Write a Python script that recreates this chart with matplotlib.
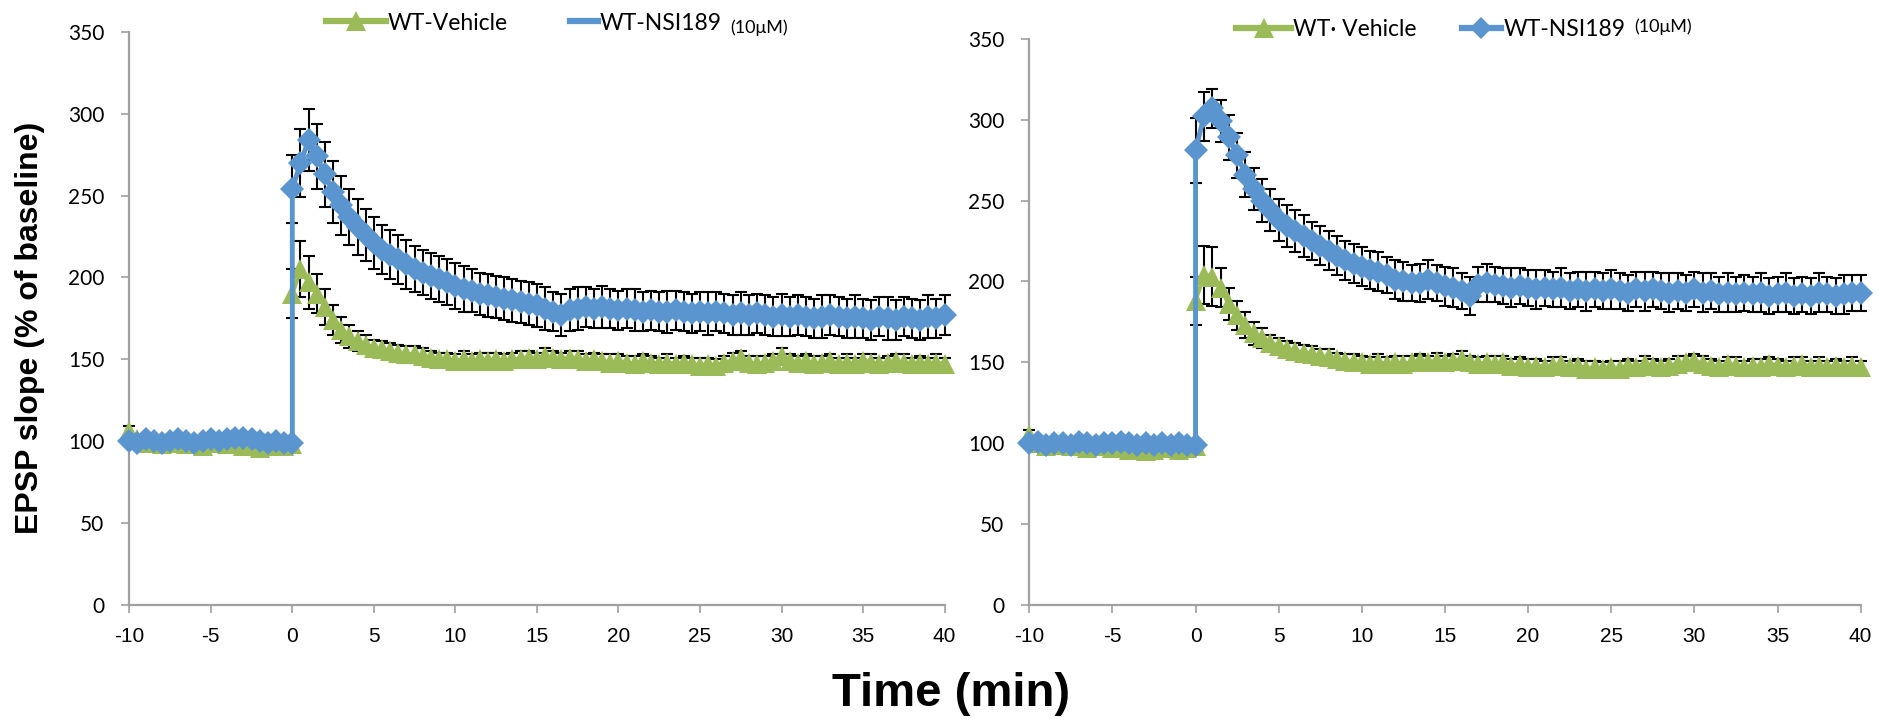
import matplotlib

matplotlib.use("Agg")
import matplotlib.pyplot as plt
import numpy as np
from matplotlib.lines import Line2D

BLUE = "#5B95CF"
GREEN = "#9BBB59"
SPINE = "#A0A0A0"

# time grid (min): baseline -10..0, post-tetanus 0..40, 30 s sampling
t_base = np.arange(-10, 0.5, 0.5)
t_post = np.arange(0, 40.5, 0.5)

# ---- left panel ----
left_blue_base = [100, 99, 101, 100, 99, 100, 101, 100, 99, 100, 101,
                  100, 101, 102, 102, 101, 100, 99, 100, 99, 99]
left_green_base = [106, 101, 99, 100, 98, 99, 100, 98, 99, 97, 99,
                   100, 98, 99, 97, 98, 96, 97, 98, 97, 98]
left_blue_post = [254, 270, 284, 274, 263, 252, 244, 237, 231, 226,
                  221, 217, 214, 211, 208, 205, 203, 201, 199, 197,
                  195, 193, 192, 190, 189, 188, 187, 186, 185, 184,
                  183, 181, 179, 177, 180, 181, 182, 181, 182, 181,
                  180, 181, 180, 179, 180, 179, 179, 180, 179, 178,
                  179, 178, 179, 178, 177, 178, 177, 178, 177, 176,
                  177, 176, 177, 176, 175, 176, 177, 176, 175, 176,
                  175, 174, 176, 175, 174, 176, 175, 174, 176, 175,
                  177]
left_blue_err = [21, 21, 19, 20, 20, 19, 18, 17, 17, 16,
                 16, 15, 15, 15, 15, 14, 14, 14, 14, 14,
                 14, 14, 13, 13, 13, 13, 13, 13, 13, 13,
                 13, 13, 12, 13, 13, 13, 12, 12, 13, 12,
                 12, 12, 13, 12, 12, 12, 13, 12, 12, 12,
                 12, 13, 12, 12, 12, 13, 12, 12, 12, 12,
                 13, 12, 12, 12, 12, 13, 12, 12, 12, 13,
                 12, 12, 12, 13, 12, 12, 12, 12, 13, 12,
                 12]
left_green_post = [190, 205, 197, 190, 182, 174, 168, 164, 161, 159,
                   157, 156, 155, 154, 153, 153, 152, 151, 150, 150,
                   149, 150, 149, 150, 149, 150, 149, 150, 150, 151,
                   150, 152, 151, 150, 151, 150, 149, 150, 149, 148,
                   149, 148, 147, 149, 148, 147, 148, 147, 148, 147,
                   146, 147, 146, 148, 149, 151, 148, 147, 148, 149,
                   152, 149, 148, 149, 147, 148, 149, 147, 148, 147,
                   149, 148, 147, 148, 149, 148, 147, 148, 147, 148,
                   147]
left_green_err = [15, 17, 16, 12, 11, 9, 8, 7, 6, 6,
                  5, 5, 5, 5, 5, 5, 5, 4, 4, 4,
                  4, 5, 4, 4, 5, 4, 4, 4, 5, 4,
                  4, 5, 4, 4, 4, 5, 4, 4, 4, 5,
                  4, 4, 5, 4, 4, 4, 5, 4, 4, 4,
                  5, 4, 4, 4, 5, 4, 4, 5, 4, 4,
                  5, 4, 4, 4, 5, 4, 4, 4, 5, 4,
                  4, 5, 4, 4, 4, 5, 4, 4, 4, 5,
                  4]

# ---- right panel ----
right_blue_base = [100, 101, 99, 100, 100, 99, 101, 100, 99, 100, 100,
                   101, 100, 99, 100, 99, 100, 99, 100, 99, 99]
right_green_base = [105, 100, 98, 100, 99, 98, 99, 97, 98, 99, 97,
                    98, 96, 97, 95, 96, 97, 98, 96, 97, 98]
right_blue_post = [281, 302, 307, 299, 289, 278, 266, 257, 250, 244,
                   238, 234, 231, 228, 225, 222, 219, 216, 213, 211,
                   209, 207, 206, 204, 201, 200, 199, 199, 201, 199,
                   197, 196, 194, 191, 198, 199, 198, 197, 196, 197,
                   196, 195, 196, 195, 196, 194, 195, 194, 195, 194,
                   195, 194, 193, 195, 194, 195, 194, 193, 194, 193,
                   195, 193, 194, 192, 193, 192, 193, 192, 193, 191,
                   192, 193, 191, 192, 191, 193, 192, 191, 192, 193,
                   193]
right_blue_err = [20, 15, 12, 13, 14, 14, 14, 13, 13, 13,
                  13, 13, 13, 13, 12, 12, 12, 12, 12, 12,
                  12, 12, 12, 11, 12, 12, 11, 12, 12, 11,
                  12, 12, 11, 12, 11, 12, 11, 11, 12, 11,
                  11, 12, 11, 11, 12, 11, 11, 12, 11, 11,
                  12, 11, 11, 11, 12, 11, 11, 12, 11, 11,
                  11, 12, 11, 11, 12, 11, 11, 11, 12, 11,
                  11, 12, 11, 11, 11, 12, 11, 11, 12, 11,
                  11]
right_green_post = [188, 204, 203, 196, 186, 179, 173, 168, 165, 162,
                    160, 158, 157, 156, 155, 154, 153, 152, 151, 150,
                    150, 149, 150, 149, 150, 149, 150, 151, 150, 151,
                    150, 151, 152, 150, 149, 150, 149, 150, 148, 149,
                    147, 148, 147, 148, 149, 147, 148, 146, 147, 146,
                    147, 146, 148, 147, 149, 148, 147, 148, 149, 150,
                    151, 149, 148, 147, 149, 148, 147, 148, 147, 149,
                    148, 147, 148, 149, 147, 148, 147, 148, 147, 148,
                    147]
right_green_err = [15, 18, 18, 12, 10, 9, 8, 7, 6, 5,
                   5, 5, 5, 5, 5, 4, 5, 4, 4, 5,
                   4, 4, 5, 4, 4, 5, 4, 4, 4, 5,
                   4, 4, 5, 4, 4, 4, 5, 4, 4, 4,
                   5, 4, 4, 5, 4, 4, 4, 5, 4, 4,
                   4, 5, 4, 4, 5, 4, 4, 4, 5, 4,
                   4, 5, 4, 4, 4, 5, 4, 4, 5, 4,
                   4, 4, 5, 4, 4, 5, 4, 4, 4, 5,
                   4]

base_err = [3] * len(t_base)

x_ticks = list(range(-10, 45, 5))
y_ticks = list(range(0, 400, 50))

TICK_FONT = ["Lato", "DejaVu Sans"]
SANS = ["Liberation Sans", "DejaVu Sans"]


def _series(base, post):
    return np.concatenate([t_base, t_post]), np.concatenate([base, post])


def draw_panel(ax, blue_base, blue_post, blue_err, green_base, green_post, green_err):
    for base, post, err, color, marker, ms, lw, z in [
        (green_base, green_post, green_err, GREEN, "^", 15, 3, 3),
        (blue_base, blue_post, blue_err, BLUE, "D", 12, 3.5, 4),
    ]:
        t, y = _series(base, post)
        e = np.concatenate([base_err, err])
        ax.errorbar(t, y, yerr=e, fmt="none", ecolor="black", elinewidth=1.5,
                    capsize=4.5, capthick=1.5, zorder=2, clip_on=False)
        ax.plot(t, y, color=color, lw=lw, marker=marker, ms=ms,
                markeredgewidth=0, zorder=z, clip_on=False)

    ax.set_xlim(-10, 40)
    ax.set_ylim(0, 350)
    ax.set_xticks(x_ticks)
    ax.set_yticks(y_ticks)
    ax.set_xticklabels([str(v) for v in x_ticks], family=SANS, fontsize=15)
    ax.set_yticklabels([str(v) for v in y_ticks], family=TICK_FONT, fontsize=15)
    for side in ["top", "right"]:
        ax.spines[side].set_visible(False)
    for side in ["left", "bottom"]:
        ax.spines[side].set_color(SPINE)
        ax.spines[side].set_linewidth(1.6)
        ax.spines[side].set_zorder(1)
    ax.tick_params(axis="both", direction="out", length=6, width=1.2, color=SPINE)
    ax.tick_params(axis="y", pad=12)
    ax.tick_params(axis="x", pad=10)


def legend_entry(fig, handle, label, x, y, handlelength, size=16.5):
    W, H = fig.get_size_inches() * fig.dpi
    fig.legend([handle], [label], loc="center left",
               bbox_to_anchor=(x / W, 1 - y / H), frameon=False,
               borderpad=0, borderaxespad=0, handlelength=handlelength,
               handletextpad=0.1, numpoints=1,
               prop={"family": TICK_FONT, "size": size})


fig = plt.figure(figsize=(18.81, 7.21), dpi=100)
ax1 = fig.add_axes([0.0687, 0.1613, 0.4335, 0.7943])
ax2 = fig.add_axes([0.5472, 0.1609, 0.4420, 0.7854])

draw_panel(ax1, left_blue_base, left_blue_post, left_blue_err,
           left_green_base, left_green_post, left_green_err)
draw_panel(ax2, right_blue_base, right_blue_post, right_blue_err,
           right_green_base, right_green_post, right_green_err)

green_h = Line2D([], [], color=GREEN, lw=4.5, marker="^", ms=14, markeredgewidth=0)
blue_line_h = Line2D([], [], color=BLUE, lw=4.5)
blue_h = Line2D([], [], color=BLUE, lw=4.5, marker="D", ms=11, markeredgewidth=0)

legend_entry(fig, green_h, "WT-Vehicle", 326, 23, 2.6)
legend_entry(fig, blue_line_h, "WT-NSI189", 570, 23, 1.2)
fig.text(730 / 1881, 1 - 33 / 721, "(10μM)", family=TICK_FONT, fontsize=13,
         ha="left", va="baseline")

legend_entry(fig, green_h, "WT· Vehicle", 1236, 30, 2.4)
legend_entry(fig, blue_h, "WT-NSI189", 1462, 30, 1.7)
fig.text(1634 / 1881, 1 - 32 / 721, "(10μM)", family=TICK_FONT, fontsize=13,
         ha="left", va="baseline")

fig.text(30 / 1881, 1 - 328 / 721, "EPSP slope (% of baseline)", rotation=90,
         family=SANS, fontweight="bold", fontsize=23,
         ha="center", va="center")
fig.text(951 / 1881, 1 - 694 / 721, "Time (min)", family=SANS,
         fontweight="bold", fontsize=34, ha="center", va="center")

fig.savefig("out.png", dpi=100)
plt.close(fig)
